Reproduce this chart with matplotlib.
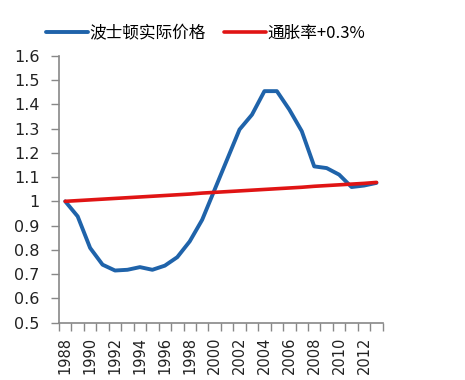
import matplotlib
matplotlib.use("Agg")
import matplotlib.pyplot as plt
from matplotlib.ticker import FixedLocator, NullFormatter

plt.rcParams['font.family'] = ['DejaVu Sans']

years = list(range(1988, 2014))
boston_real = [1.000, 0.938, 0.808, 0.739, 0.715, 0.718, 0.729, 0.718, 0.735,
               0.770, 0.835, 0.924, 1.048, 1.172, 1.296, 1.357, 1.454, 1.454,
               1.378, 1.289, 1.144, 1.137, 1.110, 1.059, 1.065, 1.076]
inflation = [1.000, 1.003, 1.006, 1.009, 1.012, 1.015, 1.018, 1.021, 1.024,
             1.027, 1.030, 1.034, 1.037, 1.040, 1.043, 1.046, 1.049, 1.052,
             1.055, 1.058, 1.062, 1.065, 1.068, 1.071, 1.074, 1.078]
label_years = [str(y) for y in range(1988, 2013, 2)]
yticks = [0.5, 0.6, 0.7, 0.8, 0.9, 1.0, 1.1, 1.2, 1.3, 1.4, 1.5, 1.6]
series_names = ['波士顿实际价格', '通胀率+0.3%']

fig = plt.figure(figsize=(4.65, 3.8), dpi=100)
ax = fig.add_axes([59/465, (380-322.7)/380, 323.7/465, 267/380])

l1, = ax.plot(years, boston_real, color='#1F63AA', lw=2.8, solid_capstyle='round',
              solid_joinstyle='round', zorder=3, label=series_names[0])
l2, = ax.plot(years, inflation, color='#E01414', lw=2.6, solid_capstyle='round',
              zorder=4, label=series_names[1])

ax.set_xlim(years[0] - 0.5, years[-1] + 0.5)
ax.set_ylim(0.5, 1.6)

ax.set_yticks(yticks)
ax.set_yticklabels(['1' if abs(v - 1) < 1e-9 else f'{v:g}' for v in yticks])

# category boundaries as major ticks, labels at even-year centers
bounds = [y - 0.5 for y in years] + [years[-1] + 0.5]
ax.xaxis.set_major_locator(FixedLocator(bounds))
ax.xaxis.set_major_formatter(NullFormatter())
ax.xaxis.set_minor_locator(FixedLocator([int(s) for s in label_years]))
ax.set_xticklabels(label_years, minor=True, rotation=90)
ax.tick_params(axis='x', which='major', length=6, width=1, color='#888888', direction='out')
ax.tick_params(axis='x', which='minor', length=0, pad=10, labelsize=10.5, labelcolor='#222222')
ax.tick_params(axis='y', length=6, width=1, color='#888888', pad=8, labelsize=11.5, labelcolor='#222222')

for s in ['top', 'right']:
    ax.spines[s].set_visible(False)
for s in ['left', 'bottom']:
    ax.spines[s].set_color('#888888')
    ax.spines[s].set_linewidth(1.2)

fig.legend(handles=[l1, l2], loc='center left', bbox_to_anchor=(0.085, 0.912),
           ncol=2, frameon=False, handlelength=2.5, handletextpad=0.1,
           columnspacing=1.1, borderaxespad=0,
           prop={'family': ['Noto Sans CJK SC', 'DejaVu Sans'], 'size': 12})

fig.savefig('out.png', dpi=100)
